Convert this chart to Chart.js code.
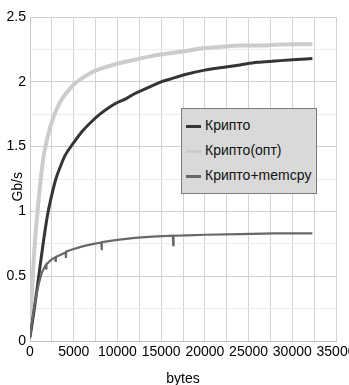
<!DOCTYPE html>
<html>
<head>
<meta charset="utf-8">
<script src="https://cdn.jsdelivr.net/npm/chart.js@4"></script>
<style>
html, body { margin: 0; padding: 0; background: #fff; overflow: hidden; }
#wrap { position: relative; width: 362px; height: 385px; }
#legend {
	position: absolute; left: 181px; top: 108px; width: 134px; height: 80px;
	background: #d9d9d9; border: 1px solid #7a7a7a; padding-top: 4px; box-sizing: content-box;
	font: 14px "Liberation Sans", Arial, sans-serif; color: #111;
}
#legend div { height: 25px; line-height: 25px; white-space: nowrap; }
#legend span.mark { display: inline-block; width: 15px; height: 3px; margin: 0 4px 0 4px; vertical-align: middle; }
</style>
</head>
<body>
<div id="wrap">
<canvas id="speed" width="362" height="385"></canvas>
<div id="legend"></div>
</div>
<script>
var seriesNames = ["Крипто", "Крипто(опт)", "Крипто+memcpy"];
var seriesColors = ["#353535", "#cccccc", "#686868"];

// Крипто
var cryptoBytes = [0, 500, 1000, 1500, 2000, 2500, 3000, 3500, 4000, 5000, 6000, 7000, 8000, 9000, 10000,
	11000, 12000, 13000, 14000, 15000, 16000, 18000, 20000, 22000, 24000, 26000, 28000, 30000, 32300];
var cryptoSpeed = [0.03, 0.25, 0.50, 0.75, 0.97, 1.13, 1.26, 1.35, 1.43, 1.53, 1.62, 1.69, 1.75, 1.80, 1.84,
	1.87, 1.91, 1.94, 1.97, 2.00, 2.02, 2.06, 2.09, 2.11, 2.13, 2.15, 2.16, 2.17, 2.18];

// Крипто(опт)
var optBytes = [0, 200, 400, 600, 800, 1000, 1500, 2000, 2500, 3000, 3500, 4000, 4500, 5000, 6000, 7000,
	8000, 9000, 10000, 12000, 14000, 16000, 18000, 20000, 22000, 24000, 26000, 28000, 30000, 32300];
var optSpeed = [0.05, 0.34, 0.60, 0.80, 0.95, 1.10, 1.40, 1.57, 1.69, 1.78, 1.85, 1.90, 1.94, 1.98, 2.03, 2.07,
	2.10, 2.12, 2.14, 2.17, 2.20, 2.22, 2.24, 2.26, 2.27, 2.28, 2.28, 2.285, 2.29, 2.29];

// Крипто+memcpy
var memcpyBytes = [0, 300, 500, 780, 1000, 1370, 1700, 1800, 1840, 1880, 2150, 2500, 2900, 2940, 2980, 3330,
	4000, 4080, 4110, 4140, 5000, 6000, 7000, 8150, 8192, 8230, 9000, 10000, 12000, 14000,
	16340, 16384, 16420, 18000, 20000, 24000, 28000, 32300];
var memcpySpeed = [0.02, 0.18, 0.27, 0.37, 0.44, 0.53, 0.575, 0.585, 0.56, 0.59, 0.61, 0.63, 0.645, 0.61, 0.65, 0.66,
	0.68, 0.685, 0.64, 0.69, 0.71, 0.73, 0.745, 0.76, 0.70, 0.762, 0.77, 0.78, 0.795, 0.805,
	0.812, 0.74, 0.812, 0.815, 0.82, 0.825, 0.83, 0.83];

var xTicks = { min: 0, max: 35000, step: 2500, labelEvery: 5000 };
var yTicks = { min: 0, max: 2.5, step: 0.25, labelEvery: 0.5 };

function points(xs, ys) {
	return xs.map(function (x, i) { return { x: x, y: ys[i] }; });
}

var font = { family: "'Liberation Sans', Arial, sans-serif", size: 14 };

var chart = new Chart("speed", {
	type: "line",
	data: {
		datasets: [
			{ label: seriesNames[0], data: points(cryptoBytes, cryptoSpeed), borderColor: seriesColors[0], borderWidth: 3, pointRadius: 0, cubicInterpolationMode: "monotone", order: 2 },
			{ label: seriesNames[1], data: points(optBytes, optSpeed), borderColor: seriesColors[1], borderWidth: 4, pointRadius: 0, cubicInterpolationMode: "monotone", order: 3 },
			{ label: seriesNames[2], data: points(memcpyBytes, memcpySpeed), borderColor: seriesColors[2], borderWidth: 2.2, pointRadius: 0, tension: 0, order: 1 }
		]
	},
	options: {
		responsive: false,
		animation: false,
		layout: { padding: { left: 0, top: 17, right: 26, bottom: 0 } },
		plugins: { legend: { display: false }, tooltip: { enabled: false } },
		scales: {
			x: {
				type: "linear", min: xTicks.min, max: xTicks.max,
				afterFit: function (s) { s.height = 44; },
				ticks: {
					stepSize: xTicks.step, color: "#000", font: font, padding: 3, maxRotation: 0, autoSkip: false,
					callback: function (v) { return v % xTicks.labelEvery === 0 ? String(v) : ""; }
				},
				grid: { color: "#d4d4d4", drawTicks: false },
				border: { color: "#c0c0c0" },
				title: { display: true, text: "bytes", color: "#000", font: font, padding: { top: 0, bottom: -3 } }
			},
			y: {
				min: yTicks.min, max: yTicks.max,
				afterFit: function (s) { s.width = 30; },
				ticks: {
					stepSize: yTicks.step, color: "#000", font: font, padding: 4, autoSkip: false,
					callback: function (v) { return Math.abs(v / yTicks.labelEvery - Math.round(v / yTicks.labelEvery)) < 1e-9 ? String(v) : ""; }
				},
				grid: {
					drawTicks: false,
					color: function (c) {
						var v = c.tick.value / yTicks.labelEvery;
						return Math.abs(v - Math.round(v)) < 1e-9 ? "#d0d0d0" : "#ececec";
					}
				},
				border: { color: "#c8c8c8" },
				title: { display: true, text: "Gb/s    ", color: "#000", font: font, padding: { top: 10, bottom: 0 } }
			}
		}
	}
});

// legend box built from the chart's own datasets
var legend = document.getElementById("legend");
chart.data.datasets.forEach(function (ds) {
	var row = document.createElement("div");
	var mark = document.createElement("span");
	mark.className = "mark";
	mark.style.background = ds.borderColor;
	row.appendChild(mark);
	row.appendChild(document.createTextNode(ds.label));
	legend.appendChild(row);
});
</script>
</body>
</html>
